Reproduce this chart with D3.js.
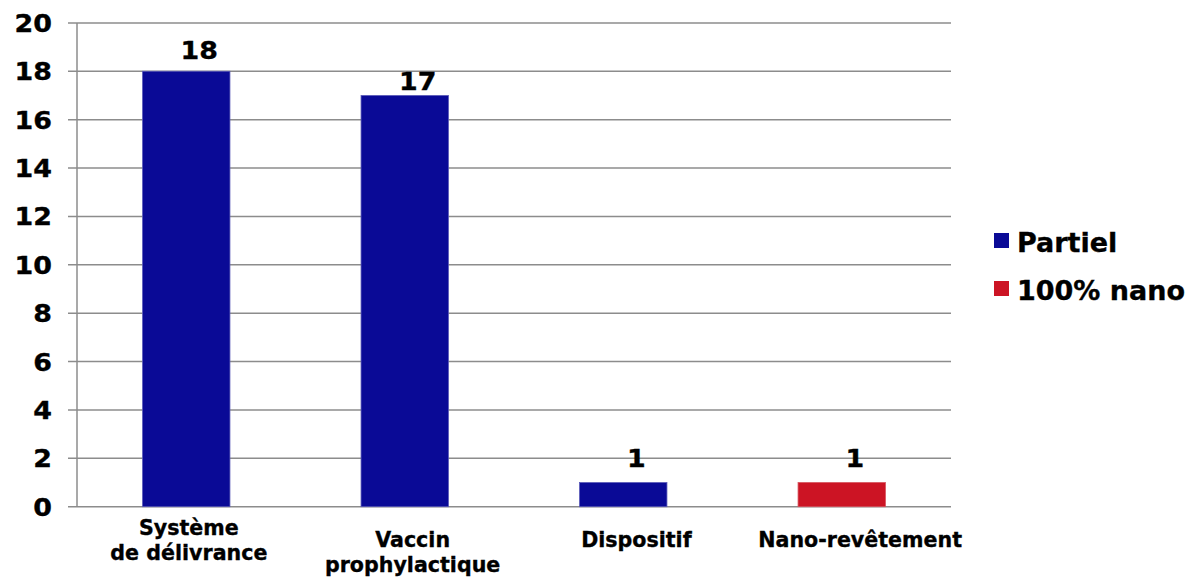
<!DOCTYPE html>
<html>
<head>
<meta charset="utf-8">
<script src="https://cdn.jsdelivr.net/npm/d3@7"></script>
<style>
  html, body { margin: 0; padding: 0; background: #fff; }
  svg { display: block; font-family: "DejaVu Sans", Verdana, sans-serif; font-weight: bold; }
  svg text { stroke: #000; stroke-width: 0.35px; }
</style>
</head>
<body>
<svg id="chart" width="1191" height="577"></svg>
<script>
// Nanomedicine products by application type
const categories = ["Système de délivrance", "Vaccin prophylactique", "Dispositif", "Nano-revêtement"];
const categoryLines = [["Système", "de délivrance"], ["Vaccin", "prophylactique"], ["Dispositif"], ["Nano-revêtement"]];
const values = [18, 17, 1, 1];
const seriesOf = ["Partiel", "Partiel", "Partiel", "100% nano"];
const seriesNames = ["Partiel", "100% nano"];
const yTicks = [0, 2, 4, 6, 8, 10, 12, 14, 16, 18, 20];

// layout tweaks for text placement
const valueLabelLift = [12, 5, 16, 16];
const categoryLabelLift = [12, 0, 0, 0];
const digitStretch = 1.12;

const colors = { "Partiel": "#0a0a96", "100% nano": "#cc1424" };

const svg = d3.select("#chart");
const plotLeft = 77, plotRight = 951, plotTop = 22.9, plotBottom = 506.7;

const y = d3.scaleLinear().domain([0, 20]).range([plotBottom, plotTop]);
const x = d3.scaleBand().domain(categories).range([plotLeft, plotRight]).paddingInner(0.6).paddingOuter(0.3);
const xLabel = d3.scaleBand().domain(categories).range([77, 972]);

// gridlines + tick marks
svg.append("g").selectAll("line").data(yTicks).join("line")
  .attr("x1", 68).attr("x2", plotRight)
  .attr("y1", d => y(d)).attr("y2", d => y(d))
  .attr("stroke", "#8c8c8c").attr("stroke-width", 1.5);

// y axis line
svg.append("line")
  .attr("x1", plotLeft).attr("x2", plotLeft).attr("y1", y(20)).attr("y2", y(0))
  .attr("stroke", "#8c8c8c").attr("stroke-width", 1.5);

// y tick labels
svg.append("g").selectAll("text").data(yTicks).join("text")
  .attr("transform", d => `translate(52, ${y(d) + 9}) scale(${digitStretch}, 1)`)
  .attr("text-anchor", "end")
  .attr("font-size", 24)
  .attr("fill", "#000")
  .text(d => d);

// bars
svg.append("g").selectAll("rect").data(categories).join("rect")
  .attr("x", d => x(d))
  .attr("y", (d, i) => y(values[i]))
  .attr("width", x.bandwidth())
  .attr("height", (d, i) => y(0) - y(values[i]))
  .attr("fill", (d, i) => colors[seriesOf[i]])
  .attr("stroke", (d, i) => seriesOf[i] === "Partiel" ? "#5a5ab8" : "#d8545e")
  .attr("stroke-width", 0.8);

// value labels
svg.append("g").selectAll("text").data(categories).join("text")
  .attr("transform", (d, i) => `translate(${x(d) + x.bandwidth() / 2 + 13}, ${y(values[i]) - valueLabelLift[i]}) scale(${digitStretch}, 1)`)
  .attr("text-anchor", "middle")
  .attr("font-size", 24)
  .attr("fill", "#000")
  .text((d, i) => values[i]);

// category labels
const cat = svg.append("g").selectAll("text").data(categories).join("text")
  .attr("text-anchor", "middle")
  .attr("font-size", 20.6)
  .attr("fill", "#000")
  .attr("y", (d, i) => 547 - categoryLabelLift[i]);
cat.each(function (d, i) {
  const cx = xLabel(d) + xLabel.bandwidth() / 2;
  d3.select(this).selectAll("tspan").data(categoryLines[i]).join("tspan")
    .attr("x", cx)
    .attr("dy", (l, j) => j === 0 ? 0 : 25)
    .text(l => l);
});

// legend
const legend = svg.append("g").selectAll("g").data(seriesNames).join("g")
  .attr("transform", (d, i) => `translate(994, ${233 + i * 48})`);
legend.append("rect").attr("width", 15).attr("height", 15).attr("fill", d => colors[d]);
legend.append("text").attr("x", 23).attr("y", 19)
  .attr("font-size", 27).attr("fill", "#000")
  .text(d => d);
</script>
</body>
</html>
